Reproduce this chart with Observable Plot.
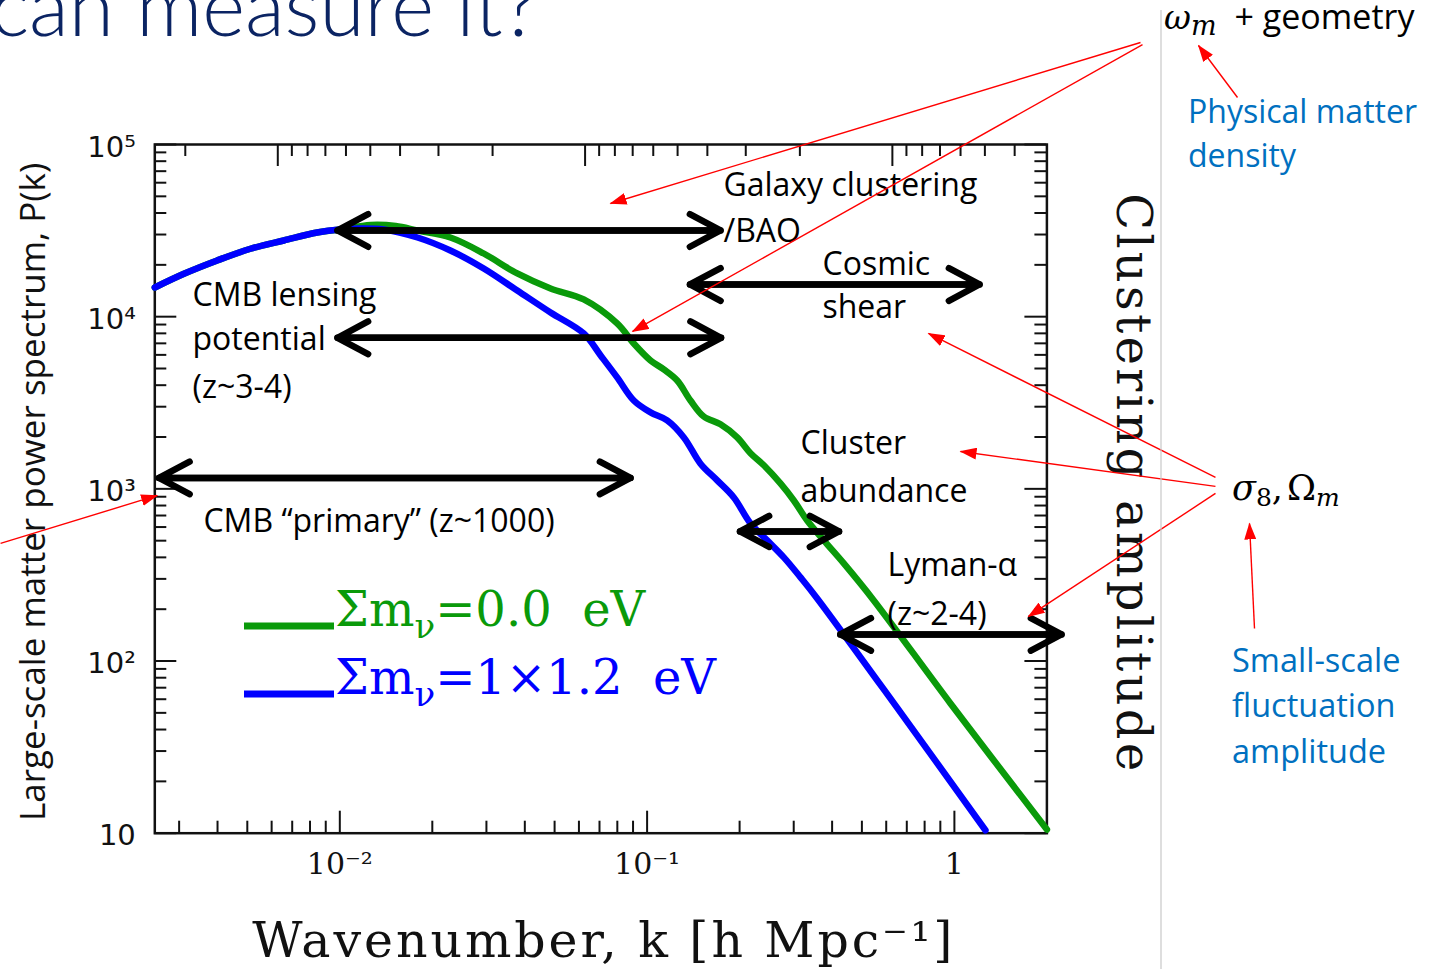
<!DOCTYPE html>
<html>
<head>
<meta charset="utf-8">
<script src="https://cdn.jsdelivr.net/npm/d3@7"></script>
<script src="https://cdn.jsdelivr.net/npm/@observablehq/plot@0.6"></script>
<style>
  html, body { margin: 0; padding: 0; background: #fff; overflow: hidden; }
  #slide { position: relative; width: 1439px; height: 969px; overflow: hidden; background: #fff; }
  #slide svg { position: absolute; left: 0; top: 0; }
</style>
</head>
<body>
<div id="slide"></div>
<script>
// ---- Matter power spectrum P(k), two neutrino-mass cases ----
const greenK = [0.0025, 0.00311, 0.00399, 0.00512, 0.00657, 0.00844, 0.0100, 0.0126, 0.0152, 0.0179, 0.0229, 0.0294, 0.0378, 0.0485, 0.0622, 0.0799, 0.0905, 0.1026, 0.1133, 0.1253, 0.1384, 0.1529, 0.1733, 0.1964, 0.2170, 0.2398, 0.2716, 0.3002, 0.3319, 0.3758, 0.4366, 0.5466, 0.9712, 2.0];
const greenP = [14780, 17750, 21210, 24800, 27700, 30830, 32090, 34080, 33630, 31670, 28830, 23280, 17820, 14580, 12590, 9130, 6990, 5570, 4940, 4260, 3260, 2630, 2370, 1990, 1610, 1370, 1075, 856, 655, 502, 369, 225, 56.7, 10.5];

const blueK = [0.0025, 0.00311, 0.00399, 0.00512, 0.00657, 0.00844, 0.0100, 0.0117, 0.0139, 0.0179, 0.0229, 0.0294, 0.0378, 0.0485, 0.0622, 0.0706, 0.0799, 0.0905, 0.1026, 0.1162, 0.1317, 0.1492, 0.1691, 0.1915, 0.2170, 0.2459, 0.2785, 0.3157, 0.3577, 0.6677, 1.262];
const blueP = [14780, 17750, 21210, 24800, 27700, 30830, 32090, 32520, 32090, 28830, 24230, 19050, 14190, 10580, 7990, 5950, 4440, 3260, 2780, 2500, 1990, 1400, 1120, 891, 630, 502, 400, 306, 231, 50.3, 10.4];

const seriesNames = ["Σm_ν=0.0 eV", "Σm_ν=1×1.2 eV"];
const seriesColors = ["#0a9a0a", "#0000ff"];

// ---- Scale ranges probed by each observable (double-headed arrows) ----
const probeKMin = [0.00983, 0.00983, 0.1379, 0.00258, 0.2006, 0.4254];
const probeKMax = [0.1733, 0.1740, 1.207, 0.0883, 0.4212, 2.231];
const probeP    = [31670, 7542, 15380, 1157, 566, 142.7];

// ---- Probe labels ----
const labelText = ["Galaxy clustering", "/BAO", "Cosmic", "shear", "CMB lensing", "potential", "(z~3-4)", "CMB “primary” (z~1000)", "Cluster", "abundance", "Lyman-α", "(z~2-4)"];
const labelK = [0.1772, 0.1772, 0.3722, 0.3722, 0.003317, 0.003317, 0.003317, 0.0036, 0.3157, 0.3157, 0.6058, 0.6058];
const labelP = [57410, 31040, 20100, 11310, 13280, 7373, 3881, 646.8, 1834, 957, 359.2, 186.4];

// ---- Red pointer arrows (from parameter notes to probes) ----
const pointerK1 = [4.033, 4.094, 8.342, 7.073, 7.073, 7.073, 9.476, 0.000787];
const pointerP1 = [391100, 380800, 187500, 1165, 1033, 940.4, 154.6, 481.8];
const pointerK2 = [0.07601, 0.08966, 6.229, 0.8235, 1.047, 1.742, 9.127, 0.002545];
const pointerP2 = [45430, 8206, 375700, 7988, 1649, 181.6, 629.7, 915.6];

// ---- Axis ticks ----
const xMajor = [0.01, 0.1, 1];
const xMinor = [0.003, 0.004, 0.005, 0.006, 0.007, 0.008, 0.009, 0.02, 0.03, 0.04, 0.05, 0.06, 0.07, 0.08, 0.09, 0.2, 0.3, 0.4, 0.5, 0.6, 0.7, 0.8, 0.9, 2];
const xTickLabels = ["10⁻²", "10⁻¹", "1"];
const yMajor = [10, 100, 1000, 10000, 100000];
const yMinor = [20, 30, 40, 50, 60, 70, 80, 90, 200, 300, 400, 500, 600, 700, 800, 900, 2000, 3000, 4000, 5000, 6000, 7000, 8000, 9000, 20000, 30000, 40000, 50000, 60000, 70000, 80000, 90000];
const yTickLabels = ["10", "10²", "10³", "10⁴", "10⁵"];
// top axis: wavelength λ = 2π/k in h⁻¹ Mpc
const lambdaMajor = [1000, 100, 10];
const lambdaMinor = [2000, 900, 800, 700, 600, 500, 400, 300, 200, 90, 80, 70, 60, 50, 40, 30, 20, 9, 8, 7, 6, 5, 4];

const xTitle = "Wavenumber, k [h Mpc⁻¹]";
const yTitle = "Large-scale matter power spectrum, P(k)";
const rightTitle = "Clustering amplitude";

const W = 1439, H = 969;
const mL = 154.3, mR = 392.6, mT = 144, mB = 136.3;
const plotW = W - mL - mR, plotH = H - mT - mB;
const majorLen = 22, minorLen = 12;

const green = greenK.map((k, i) => ({k, p: greenP[i]}));
const blue = blueK.map((k, i) => ({k, p: blueP[i]}));
const probes = d3.range(probeP.length);
const labels = d3.range(labelText.length);
const pointers = d3.range(pointerK1.length);

const sans = "'Open Sans', 'Noto Sans', sans-serif";
const serif = "'DejaVu Serif', 'Liberation Serif', serif";

const chart = Plot.plot({
  width: W, height: H,
  marginLeft: mL, marginRight: mR, marginTop: mT, marginBottom: mB,
  style: {background: "transparent", overflow: "visible"},
  x: {type: "log", domain: [0.0025, 2], axis: null},
  y: {type: "log", domain: [10, 1e5], axis: null},
  marks: [
    // inward ticks on all four sides
    Plot.tickX(xMajor, {x: d => d, stroke: "#111", strokeWidth: 2, insetTop: plotH - majorLen}),
    Plot.tickX(xMinor, {x: d => d, stroke: "#111", strokeWidth: 2, insetTop: plotH - minorLen}),
    Plot.tickX(lambdaMajor, {x: d => 2 * Math.PI / d, stroke: "#111", strokeWidth: 2, insetBottom: plotH - majorLen}),
    Plot.tickX(lambdaMinor, {x: d => 2 * Math.PI / d, stroke: "#111", strokeWidth: 2, insetBottom: plotH - minorLen}),
    Plot.tickY(yMajor, {y: d => d, stroke: "#111", strokeWidth: 2, insetRight: plotW - majorLen}),
    Plot.tickY(yMinor, {y: d => d, stroke: "#111", strokeWidth: 2, insetRight: plotW - minorLen}),
    Plot.tickY(yMajor, {y: d => d, stroke: "#111", strokeWidth: 2, insetLeft: plotW - majorLen}),
    Plot.tickY(yMinor, {y: d => d, stroke: "#111", strokeWidth: 2, insetLeft: plotW - minorLen}),
    Plot.frame({stroke: "#111", strokeWidth: 2.5}),

    // tick labels
    Plot.text(xMajor, {x: d => d, text: (d, i) => xTickLabels[i], frameAnchor: "bottom", lineAnchor: "middle", textAnchor: "middle", dy: 31, fontFamily: serif, fontSize: 30, fill: "#111"}),
    Plot.text(yMajor, {y: d => d, text: (d, i) => yTickLabels[i], frameAnchor: "left", textAnchor: "end", lineAnchor: "middle", dx: -19, dy: 3, fontFamily: "'DejaVu Sans', sans-serif", fontSize: 29, fill: "#111"}),

    // axis titles
    Plot.text([xTitle], {text: d => d, frameAnchor: "bottom", textAnchor: "middle", lineAnchor: "middle", dx: 3, dy: 108, fontFamily: serif, fontSize: 49, fill: "#111"}),
    Plot.text([yTitle], {text: d => d, frameAnchor: "left", textAnchor: "middle", lineAnchor: "middle", rotate: -90, dx: -121, dy: 3, fontFamily: sans, fontSize: 35, fill: "#111"}),
    Plot.text([rightTitle], {text: d => d, frameAnchor: "right", textAnchor: "middle", lineAnchor: "middle", rotate: 90, dx: 85, dy: -5, fontFamily: serif, fontSize: 48, fill: "#111"}),

    // spectra
    Plot.line(green, {x: "k", y: "p", stroke: seriesColors[0], strokeWidth: 6.5, curve: "catmull-rom"}),
    Plot.line(blue, {x: "k", y: "p", stroke: seriesColors[1], strokeWidth: 6.5, curve: "catmull-rom"}),

    // probe ranges, double-headed
    Plot.arrow(probes, {x1: i => probeKMin[i], x2: i => probeKMax[i], y1: i => probeP[i], y2: i => probeP[i], stroke: "#000", strokeWidth: 6.5, headLength: 8, headAngle: 56, strokeLinecap: "round", strokeLinejoin: "round"}),
    Plot.arrow(probes, {x1: i => probeKMax[i], x2: i => probeKMin[i], y1: i => probeP[i], y2: i => probeP[i], stroke: "#000", strokeWidth: 6.5, headLength: 8, headAngle: 56, strokeLinecap: "round", strokeLinejoin: "round"}),

    // probe labels
    Plot.text(labels, {x: i => labelK[i], y: i => labelP[i], text: i => labelText[i], textAnchor: "start", lineAnchor: "middle", fontFamily: sans, fontSize: 32, fill: "#000"}),

    // red pointers
    Plot.link(pointers, {x1: i => pointerK1[i], y1: i => pointerP1[i], x2: i => pointerK2[i], y2: i => pointerP2[i], stroke: "#ff0000", strokeWidth: 1.4})
  ]
});
chart.setAttribute("width", W);
chart.setAttribute("height", H);
document.getElementById("slide").appendChild(chart);

// filled triangular heads on the red pointers
const svg = d3.select(chart);
const defs = svg.insert("defs", ":first-child");
defs.append("marker")
  .attr("id", "red-head").attr("markerUnits", "userSpaceOnUse")
  .attr("viewBox", "0 0 17 12").attr("markerWidth", 17).attr("markerHeight", 12)
  .attr("refX", 16).attr("refY", 6).attr("orient", "auto")
  .append("path").attr("d", "M0,0L17,6L0,12Z").attr("fill", "#ff0000");
chart.querySelectorAll('g[stroke="#ff0000"] path').forEach(p => p.setAttribute("marker-end", "url(#red-head)"));

// wide letter spacing of the serif titles
chart.querySelectorAll("text").forEach(t => {
  if (t.textContent === xTitle) t.style.letterSpacing = "2.9px";
  if (t.textContent === rightTitle) t.style.letterSpacing = "3.3px";
});

// ---- slide furniture: title, legend, side notes ----
const over = d3.select("#slide").append("svg")
  .attr("width", W).attr("height", H).style("pointer-events", "none");

over.append("text").attr("x", 538).attr("y", 36).attr("text-anchor", "end")
  .attr("font-family", "Lato, 'Open Sans', sans-serif").attr("font-weight", 300)
  .attr("font-size", 82).attr("fill", "#0b2463").text("can measure it?");

over.append("line").attr("x1", 1161).attr("x2", 1161).attr("y1", 10).attr("y2", H)
  .attr("stroke", "#c8c8c8").attr("stroke-width", 1.2);

// legend
const legendY = [626, 694];
seriesNames.forEach((name, i) => {
  over.append("rect").attr("x", 244).attr("y", legendY[i] - 3.5).attr("width", 90).attr("height", 7).attr("fill", seriesColors[i]);
  const t = over.append("text").attr("x", 335).attr("y", legendY[i]).attr("font-family", serif)
    .attr("font-size", 48).attr("fill", seriesColors[i]).attr("xml:space", "preserve");
  const [head, tail] = name.split("_");
  t.append("tspan").text(head);
  t.append("tspan").attr("font-size", 34).attr("dy", 12).text(tail[0]);
  t.append("tspan").attr("dy", -12).text(tail.slice(1).replace(" eV", "  eV"));
});

// side notes
const note = (x, y, str, color, size) => over.append("text").attr("x", x).attr("y", y)
  .attr("font-family", sans).attr("font-size", size).attr("fill", color).text(str);

const om = over.append("text").attr("x", 1164).attr("y", 29).attr("font-family", serif).attr("font-size", 33).attr("fill", "#000");
om.append("tspan").attr("font-style", "italic").text("ω");
om.append("tspan").attr("font-style", "italic").attr("font-size", 27).attr("dy", 6).text("m");
om.append("tspan").attr("dy", -6).attr("font-family", sans).attr("font-size", 34).attr("dx", 18).text("+ geometry");

note(1188, 123, "Physical matter", "#0070c0", 32);
note(1188, 167, "density", "#0070c0", 32);

const sg = over.append("text").attr("x", 1232).attr("y", 500).attr("font-family", serif).attr("font-size", 35).attr("fill", "#000");
sg.append("tspan").attr("font-style", "italic").text("σ");
sg.append("tspan").attr("font-size", 25).attr("dy", 6).text("8");
sg.append("tspan").attr("dy", -6).text(",");
sg.append("tspan").attr("dx", 4).text("Ω");
sg.append("tspan").attr("font-style", "italic").attr("font-size", 25).attr("dy", 6).text("m");

note(1232, 672, "Small-scale", "#0070c0", 32.5);
note(1232, 717, "fluctuation", "#0070c0", 32.5);
note(1232, 763, "amplitude", "#0070c0", 32.5);
</script>
</body>
</html>
